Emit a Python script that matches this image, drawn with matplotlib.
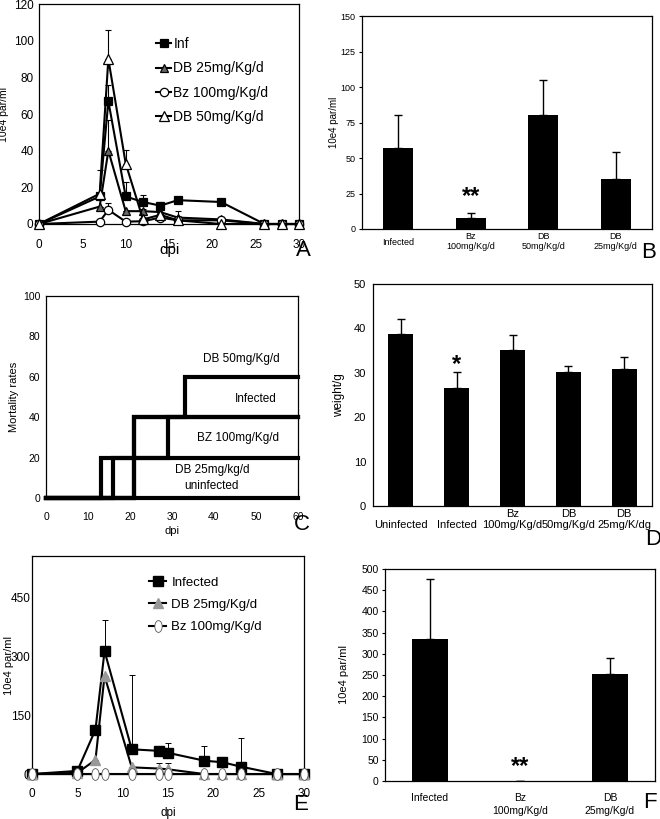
import matplotlib
matplotlib.use("Agg")
import matplotlib.pyplot as plt
from matplotlib.markers import MarkerStyle
from matplotlib.transforms import Affine2D, ScaledTranslation
import numpy as np

plt.rcParams['font.family'] = ['Liberation Sans', 'DejaVu Sans']

# ---------------- Panel A data ----------------
a_days = [0, 7, 8, 10, 12, 14, 16, 21, 26, 28, 30]
a_inf = [0, 15, 67, 15, 12, 10, 13, 12, 0, 0, 0]
a_inf_err = [0, 0, 9, 8, 4, 2, 1, 1, 0, 0, 0]
a_db25 = [0, 9.5, 40, 7, 7, 6.5, 3.5, 2.5, 0, 0, 0]
a_db25_err = [0, 0, 17, 0, 1, 1, 1, 0, 0, 0, 0]
a_bz = [0, 1.3, 7.7, 1.3, 1.5, 3.5, 2, 2, 0, 0, 0]
a_bz_err = [0, 0, 4, 0, 0, 1, 0, 2, 0, 0, 0]
a_db50 = [0, 16.5, 90, 33, 2.5, 5, 2, 0, 0, 0, 0]
a_db50_err = [0, 13, 16, 7.5, 1, 1, 5, 4, 0, 0, 0]
a_labels = ["Inf", "DB 25mg/Kg/d", "Bz 100mg/Kg/d", "DB 50mg/Kg/d"]

# ---------------- Panel B data ----------------
b_cats = ["Infected", "Bz\n100mg/Kg/d", "DB\n50mg/Kg/d", "DB\n25mg/Kg/d"]
b_vals = [57, 7.5, 80, 35]
b_err = [23, 3.5, 25, 19]

# ---------------- Panel C data ----------------
c_uninf_x, c_uninf_y = [0, 60], [0, 0]
c_db25_x, c_db25_y = [0, 13, 60], [0, 20, 20]
c_bz_x, c_bz_y = [0, 16, 29, 60], [0, 20, 40, 40]
c_inf_x, c_inf_y = [0, 21, 33, 60], [0, 40, 60, 60]
c_db50_x, c_db50_y = [0, 21, 60], [0, 40, 40]

# ---------------- Panel D data ----------------
d_cats = ["\nUninfected", "\nInfected", "Bz\n100mg/Kg/d", "DB\n50mg/Kg/d", "DB\n25mg/K/dg"]
d_vals = [38.8, 26.6, 35.1, 30.2, 30.8]
d_err = [3.3, 3.5, 3.4, 1.3, 2.7]

# ---------------- Panel E data ----------------
e_days = [0, 5, 7, 8, 11, 14, 15, 19, 21, 23, 27, 30]
e_inf = [0, 8, 113, 313, 63, 59, 54, 34, 30, 19, 0, 0]
e_inf_err = [0, 0, 0, 78, 189, 10, 26, 38, 14, 74, 0, 0]
e_db25 = [0, 3, 36, 250, 17, 14, 12, 0, 0, 0, 0, 0]
e_db25_err = [0, 0, 0, 0, 0, 14, 15, 0, 0, 0, 0, 0]
e_bz = [0, 0, 0, 0, 0, 0, 0, 0, 0, 0, 0, 0]
e_labels = ["Infected", "DB 25mg/Kg/d", "Bz 100mg/Kg/d"]

# ---------------- Panel F data ----------------
f_cats = ["Infected", "Bz\n100mg/Kg/d", "DB\n25mg/Kg/d"]
f_vals = [335, 1, 253]
f_err = [142, 0, 36]

fig = plt.figure(figsize=(6.6, 8.19), dpi=100)


def style_box(ax, tick_fs):
    for s in ax.spines.values():
        s.set_linewidth(0.9)
        s.set_color('black')
    ax.tick_params(labelsize=tick_fs, length=2.5, width=0.8, pad=2)


# ================= Panel A =================
axA = fig.add_axes([0.0591, 0.7265, 0.394, 0.2686])
series = [
    (a_inf, a_inf_err, 's', 'black', 'black', 5.5),
    (a_db25, a_db25_err, '^', '#666666', 'black', 6),
    (a_bz, a_bz_err, 'o', 'white', 'black', 6),
    (a_db50, a_db50_err, '^', 'white', 'black', 7),
]
handles = []
for vals, err, m, fc, ec, ms in series:
    axA.errorbar(a_days, vals, yerr=[np.zeros(len(err)), err], fmt='none',
                 ecolor='black', elinewidth=0.8, capsize=2, capthick=0.8, clip_on=False)
    h, = axA.plot(a_days, vals, '-', color='black', lw=1.5, marker=m, ms=ms,
                  mfc=fc, mec=ec, mew=0.9, clip_on=False, zorder=3)
    handles.append(h)
axA.set_xlim(0, 30)
axA.set_ylim(0, 120)
axA.set_xticks(range(0, 31, 5))
axA.set_yticks(range(0, 121, 20))
style_box(axA, 8.5)
axA.tick_params(axis='x', length=0, pad=11)
axA.tick_params(axis='y', length=0, pad=4)
axA.set_ylabel("10e4 par/ml", fontsize=7.5, labelpad=3)
axA.set_xlabel("dpi", fontsize=11, labelpad=-6)
axA.legend(handles, a_labels, loc='upper left', bbox_to_anchor=(0.45, 0.85),
           frameon=False, fontsize=10, handlelength=1.1, handletextpad=0.15,
           labelspacing=0.75, borderpad=0, borderaxespad=0)

# ================= Panel B =================
axB = fig.add_axes([0.5485, 0.7204, 0.4394, 0.260])
xb = np.arange(len(b_cats))
axB.bar(xb, b_vals, width=0.42, color='black', zorder=2)
axB.errorbar(xb, b_vals, yerr=[np.zeros(len(b_err)), b_err], fmt='none',
             ecolor='black', elinewidth=1.0, capsize=3, capthick=1.0, zorder=1)
axB.set_xlim(-0.5, len(b_cats) - 0.5)
axB.set_ylim(0, 150)
axB.set_yticks(range(0, 151, 25))
axB.set_xticks(xb)
axB.set_xticklabels(b_cats, fontsize=7, linespacing=1.15)
style_box(axB, 6.5)
axB.tick_params(axis='x', length=0)
axB.set_ylabel("10e4 par/ml", fontsize=7, labelpad=1)
lab = axB.get_xticklabels()[0]
lab.set_transform(lab.get_transform() + ScaledTranslation(0, -0.06, fig.dpi_scale_trans))
axB.text(xb[1], 18, "**", ha='center', va='baseline', fontsize=17, fontweight='bold')

# ================= Panel C =================
axC = fig.add_axes([0.0697, 0.3919, 0.3818, 0.2466])
for cx, cy in [(c_uninf_x, c_uninf_y), (c_db25_x, c_db25_y), (c_bz_x, c_bz_y),
               (c_inf_x, c_inf_y), (c_db50_x, c_db50_y)]:
    axC.plot(cx, cy, drawstyle='steps-post', color='black', lw=3,
             solid_capstyle='projecting', solid_joinstyle='miter', clip_on=False)
axC.set_xlim(0, 60)
axC.set_ylim(0, 100)
axC.set_xticks(range(0, 61, 10))
axC.set_yticks(range(0, 101, 20))
style_box(axC, 7.5)
axC.tick_params(axis='x', length=0, pad=10)
axC.tick_params(axis='y', length=0, pad=4)
axC.set_ylabel("Mortality rates", fontsize=8, labelpad=3)
axC.set_xlabel("dpi", fontsize=8, labelpad=3)
axC.text(46.4, 69, "DB 50mg/Kg/d", ha='center', va='center', fontsize=8.5)
axC.text(50, 49, "Infected", ha='center', va='center', fontsize=8.5)
axC.text(45.7, 29.5, "BZ 100mg/Kg/d", ha='center', va='center', fontsize=8.5)
axC.text(39.5, 14, "DB 25mg/kg/d", ha='center', va='center', fontsize=8.5)
axC.text(39.5, 6, "uninfected", ha='center', va='center', fontsize=8.5)

# ================= Panel D =================
axD = fig.add_axes([0.5652, 0.3822, 0.4227, 0.2711])
xd = np.arange(len(d_cats))
axD.bar(xd, d_vals, width=0.45, color='black', zorder=2)
axD.errorbar(xd, d_vals, yerr=[np.zeros(len(d_err)), d_err], fmt='none',
             ecolor='black', elinewidth=1.0, capsize=3, capthick=1.0, zorder=1)
axD.set_xlim(-0.5, len(d_cats) - 0.5)
axD.set_ylim(0, 50)
axD.set_yticks(range(0, 51, 10))
axD.set_xticks(xd)
axD.set_xticklabels(d_cats, fontsize=6.8, linespacing=1.15)
style_box(axD, 8)
axD.tick_params(axis='x', length=0, pad=2)
axD.tick_params(axis='y', length=0, pad=5)
axD.set_ylabel("weight/g", fontsize=8.5, labelpad=6)
axD.text(xd[1], 30.3, "*", ha='center', va='baseline', fontsize=17, fontweight='bold')

# ================= Panel E =================
axE = fig.add_axes([0.0485, 0.0549, 0.4121, 0.2662])
ell = MarkerStyle('o', transform=Affine2D().scale(0.62, 1.0))
eseries = [
    (e_inf, e_inf_err, 's', 'black', 'black', 6.5, 1.0),
    (e_db25, e_db25_err, '^', '#999999', '#999999', 7, 1.0),
    (e_bz, None, ell, 'white', '#555555', 8.5, 0.6),
]
ehandles = []
for vals, err, m, fc, ec, ms, mew in eseries:
    if err is not None:
        axE.errorbar(e_days, vals, yerr=[np.zeros(len(err)), err], fmt='none',
                     ecolor='black', elinewidth=0.7, capsize=2, capthick=0.7, clip_on=False)
    h, = axE.plot(e_days, vals, '-', color='black', lw=1.5, marker=m, ms=ms,
                  mfc=fc, mec=ec, mew=mew, clip_on=False, zorder=3)
    ehandles.append(h)
axE.set_xlim(0, 30)
axE.set_ylim(0, 555)
axE.set_xticks(range(0, 31, 5))
axE.set_yticks([0, 150, 300, 450])
style_box(axE, 8.5)
axE.tick_params(axis='x', length=0, pad=10)
axE.tick_params(axis='y', length=0, pad=1)
axE.set_ylabel("10e4 par/ml", fontsize=8, labelpad=-2)
axE.set_xlabel("dpi", fontsize=8.5, labelpad=5)
axE.legend(ehandles, e_labels, loc='upper left', bbox_to_anchor=(0.43, 0.905),
           frameon=False, fontsize=9.5, handlelength=1.3, handletextpad=0.4,
           labelspacing=0.75, borderpad=0, borderaxespad=0)

# ================= Panel F =================
axF = fig.add_axes([0.5833, 0.0464, 0.4091, 0.2589])
xf = np.arange(len(f_cats))
axF.bar(xf, f_vals, width=0.4, color='black', zorder=2)
axF.errorbar(xf, f_vals, yerr=[np.zeros(len(f_err)), f_err], fmt='none',
             ecolor='black', elinewidth=1.0, capsize=3, capthick=1.0, zorder=1)
axF.set_xlim(-0.5, len(f_cats) - 0.5)
axF.set_ylim(0, 500)
axF.set_yticks(range(0, 501, 50))
axF.set_xticks(xf)
axF.set_xticklabels(f_cats, fontsize=7.5, linespacing=1.3)
style_box(axF, 7.5)
axF.tick_params(axis='x', length=0, pad=9)
axF.set_ylabel("10e4 par/ml", fontsize=8, labelpad=9)
axF.text(xf[1], 19, "**", ha='center', va='baseline', fontsize=17, fontweight='bold')

# ---------------- Panel letters ----------------
for lx, ly, t in [(0.459, 0.688, "A"), (0.982, 0.685, "B"), (0.457, 0.353, "C"),
                  (0.99, 0.335, "D"), (0.455, 0.011, "E"), (0.985, 0.013, "F")]:
    fig.text(lx, ly, t, ha='center', va='baseline', fontsize=16)

fig.savefig("out.png", dpi=100)
